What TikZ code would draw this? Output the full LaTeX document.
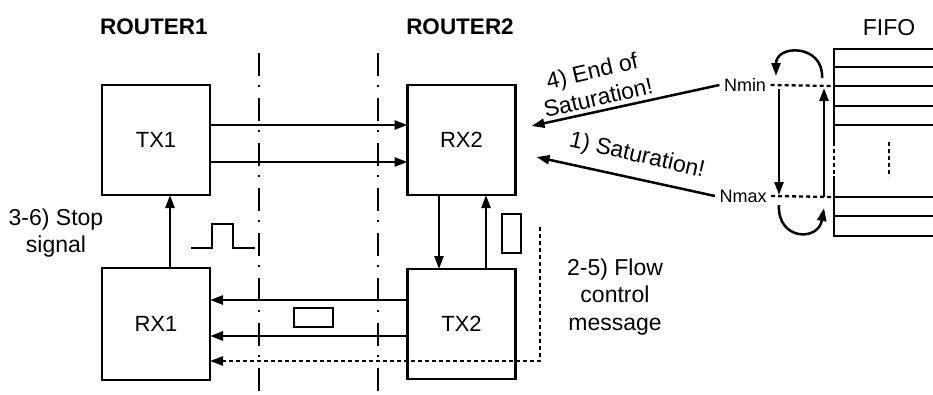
\documentclass[tikz,border=0pt]{standalone}
\usepackage{fontspec}
\setmainfont{Liberation Sans}
\usetikzlibrary{arrows.meta}

\tikzset{
  block/.style={draw,line width=2.6pt,minimum width=108pt,minimum height=110pt,outer sep=0pt,font=\fontsize{22}{26}\selectfont},
  pkt/.style={draw,line width=2.4pt,outer sep=0pt,inner sep=0pt},
  note/.style={align=center,font=\fontsize{23}{27.5}\selectfont},
  title/.style={font=\fontsize{22.5}{26}\selectfont\bfseries},
  level/.style={font=\fontsize{18}{21}\selectfont},
  border/.style={line width=2.3pt,dash pattern=on 23pt off 9pt on 2pt off 11pt},
  dotline/.style={line width=2.3pt,dash pattern=on 4pt off 3pt},
}

\begin{document}
\begin{tikzpicture}[x=1pt,y=-1pt,line width=2.5pt,>={Triangle[length=13pt,width=9pt]}]
\useasboundingbox (0,0) rectangle (933,394);

% routers
\node[title] (router1) at (154,27) {ROUTER1};
\node[title] (router2) at (460,27) {ROUTER2};

\node[block] (tx1) at (156,140) {TX1};
\node[block,minimum height=112pt] (rx1) at (156,324) {RX1};
\node[block] (rx2) at (461.5,140) {RX2};
\node[block] (tx2) at (461.5,324) {TX2};

% links
\draw[->] ([yshift=15pt]tx1.east) -- ([yshift=15pt]rx2.west);
\draw[->] ([yshift=-22pt]tx1.east) -- ([yshift=-22pt]rx2.west);
\draw[->] ([yshift=24pt]tx2.west) -- ([yshift=24pt]rx1.east);
\draw[->] ([yshift=-12pt]tx2.west) -- ([yshift=-12pt]rx1.east);
\draw[->] ([xshift=14pt]rx1.north) -- ([xshift=14pt]tx1.south);
\draw[->] ([xshift=-22.5pt]rx2.south) -- ([xshift=-22.5pt]tx2.north);
\draw[->] ([xshift=24.5pt]tx2.north) -- ([xshift=24.5pt]rx2.south);

\coordinate (fcstart) at (540,227);
\draw[dotline,->] (fcstart) |- ([yshift=-37pt]rx1.east);

% packets and stop pulse
\node[pkt,minimum width=39pt,minimum height=19pt] (pkth) at (313.5,317.5) {};
\node[pkt,minimum width=19pt,minimum height=39pt] (pktv) at (511.5,233.5) {};
\draw (191,248) -- (212,248) -- (212,224) -- (233,224) -- (233,248) -- (255,248);

\draw[border] (259,53) -- (259,394);
\draw[border] (378,53) -- (378,394);

\node[note] (stoplbl) at (56,233) {3-6) Stop\\signal};
\node[note] (flowlbl) at (615,297) {2-5) Flow\\control\\message};
\node[note,rotate=13] (endlbl) at (595,84) {4) End of\\Saturation!};
\node[note,rotate=-13] (satlbl) at (637,156) {1) Saturation!};

% fifo
\node[note] (fifo) at (889,28) {FIFO};
\foreach \yy in {49,67,86,106,125,197,216,236}
  \draw[line width=2.6pt] (834,\yy) -- (933,\yy);
\draw[line width=2.6pt] (834,48) -- (834,142);
\draw[dotline] (834,142) -- (834,176);
\draw[line width=2.6pt] (834,176) -- (834,237);
\draw[dotline] (889,142) -- (889,177);

\node[level] (nmin) at (745,85) {Nmin};
\node[level] (nmax) at (743,196) {Nmax};
\coordinate (lvlmin) at (834,86);
\coordinate (lvlmax) at (834,197);
\draw[dotline] (nmin.east) -- (lvlmin);
\draw[dotline] (nmax.east) -- (lvlmax);

\draw[->] (nmin.west) -- ([xshift=16pt,yshift=14pt]rx2.east);
\draw[->] (nmax.west) -- ([xshift=21pt,yshift=-17pt]rx2.east);

\draw[->] ([xshift=-55pt,yshift=-3pt]lvlmin) -- ([xshift=-55pt,yshift=2pt]lvlmax);
\draw[->] ([xshift=-10pt]lvlmax) -- ([xshift=-10pt,yshift=-2pt]lvlmin);
\draw[->] (822,78) .. controls (824,44) and (776,44) .. (776,76);
\draw[->] (779,205) .. controls (777,240) and (818,242) .. (824,208);
\end{tikzpicture}
\end{document}
